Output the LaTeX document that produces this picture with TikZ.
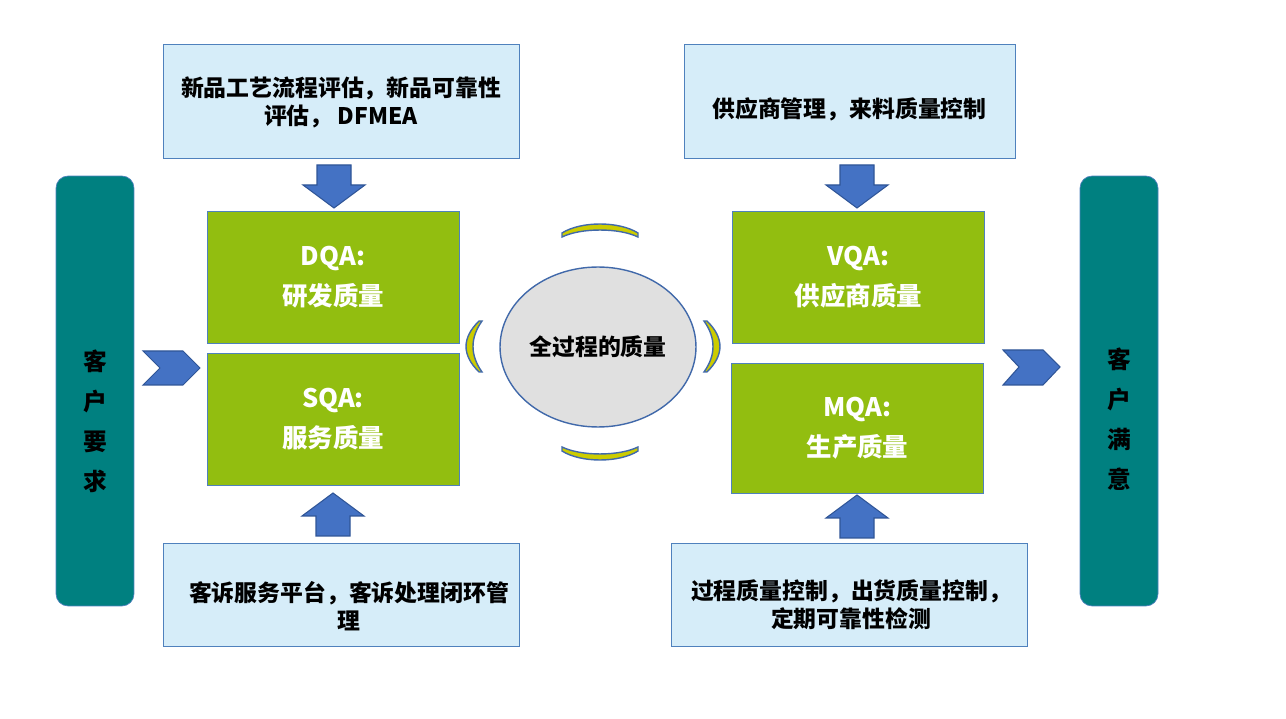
\documentclass[tikz,border=0pt]{standalone}
\usepackage{fontspec}
\newfontfamily\cjk{Noto Sans CJK SC}
\usetikzlibrary{shapes.geometric}
\definecolor{edgeblue}{RGB}{79,129,189}
\definecolor{boxblue}{RGB}{214,237,249}
\definecolor{qagreen}{RGB}{146,190,16}
\definecolor{tealbar}{RGB}{0,128,128}
\definecolor{arrowblue}{RGB}{68,114,196}
\definecolor{arrowedge}{RGB}{47,85,151}
\definecolor{ellgray}{RGB}{224,224,224}
\definecolor{elledge}{RGB}{65,105,170}
\definecolor{arcyellow}{RGB}{204,204,0}
\tikzset{
  pics/dnarrow/.style={code={
    \draw[blockarrow] (0,0) -- (31,-23) -- (17,-23) -- (17,-43) -- (-17,-43) -- (-17,-23) -- (-31,-23) -- cycle;
  }},
}
\begin{document}
\begin{tikzpicture}[x=0.02cm,y=-0.02cm,
    bar/.style={draw=edgeblue,fill=tealbar,rounded corners=0.24cm,minimum width=1.56cm,minimum height=8.6cm},
    bartext/.style={font=\cjk\bfseries\fontsize{13.5}{22.8}\selectfont,align=center},
    qabox/.style={draw=edgeblue,fill=qagreen,minimum width=5.04cm,minimum height=2.64cm,text=white,
      font=\cjk\bfseries\fontsize{14.5}{22.8}\selectfont,align=center},
    infobox/.style={draw=edgeblue,fill=boxblue,minimum width=7.12cm},
    infotext/.style={font=\cjk\bfseries\fontsize{13}{16}\selectfont,align=center},
    crescent/.style={draw=elledge,fill=arcyellow,line width=0.8pt},
    blockarrow/.style={draw=arrowedge,fill=arrowblue,line width=0.6pt}]
  \useasboundingbox (0,0) rectangle (1286,719);

  % side bars
  \node[bar] (req) at (95,391) {};
  \node[bartext] (reqtext) at (95,421) {客\\户\\要\\求};
  \node[bar] (sat) at (1119,391) {};
  \node[bartext] (sattext) at (1119,419) {客\\户\\满\\意};

  % quality boxes
  \node[qabox] (dqa) at (333,277) {DQA:\\研发质量};
  \node[qabox] (sqa) at (333,419) {SQA:\\服务质量};
  \node[qabox] (vqa) at (858.5,277) {VQA:\\供应商质量};
  \node[qabox,minimum height=2.6cm] (mqa) at (857.5,428) {MQA:\\生产质量};

  % info boxes
  \node[infobox,minimum height=2.28cm] (dfmea) at (341,101) {};
  \node[infotext] (dfmeatext) at (341,102) {新品工艺流程评估，新品可靠性\\评估， DFMEA};
  \node[infobox,minimum width=6.62cm,minimum height=2.28cm] (supp) at (849.5,101) {};
  \node[infotext] (supptext) at (849.5,109) {供应商管理，来料质量控制};
  \node[infobox,minimum height=2.06cm] (cust) at (341,594.5) {};
  \node[infotext] (custtext) at (349,606) {客诉服务平台，客诉处理闭环管\\理};
  \node[infobox,minimum height=2.06cm] (proc) at (849.5,594.5) {};
  \node[infotext] (proctext) at (851,604.5) {过程质量控制，出货质量控制，\\定期可靠性检测};

  % centre
  \node[ellipse,draw=elledge,fill=ellgray,line width=0.8pt,inner sep=0pt,minimum width=3.92cm,minimum height=3.2cm,
    font=\cjk\bfseries\fontsize{13}{16}\selectfont] (whole) at (598,347) {全过程的质量};
  \draw[crescent] (562,233) .. controls (581,221) and (619,221) .. (638,233)
    -- (638,237) .. controls (619,227.7) and (581,227.7) .. (562,237) -- cycle;
  \draw[crescent] (562,451) .. controls (581,463) and (619,463) .. (638,451)
    -- (638,447) .. controls (619,456.3) and (581,456.3) .. (562,447) -- cycle;
  \draw[crescent] (479,321) .. controls (461.7,338) and (461.7,355) .. (479,372)
    -- (482,372) .. controls (470,355) and (470,338) .. (482,321) -- cycle;
  \draw[crescent] (707,321) .. controls (724.3,338) and (724.3,355) .. (707,372)
    -- (704,372) .. controls (716,355) and (716,338) .. (704,321) -- cycle;

  % arrows
  \pic at (334,208) {dnarrow};
  \pic at (857,208) {dnarrow};
  \pic[rotate=180] at (333,493) {dnarrow};
  \pic[rotate=180] at (857,495) {dnarrow};
  \draw[blockarrow] (143,351) -- (183,351) -- (200,368) -- (183,385) -- (143,385) -- (160,368) -- cycle;
  \draw[blockarrow] (1003,350) -- (1043,350) -- (1060,367) -- (1043,385) -- (1003,385) -- (1019,367) -- cycle;
\end{tikzpicture}
\end{document}
